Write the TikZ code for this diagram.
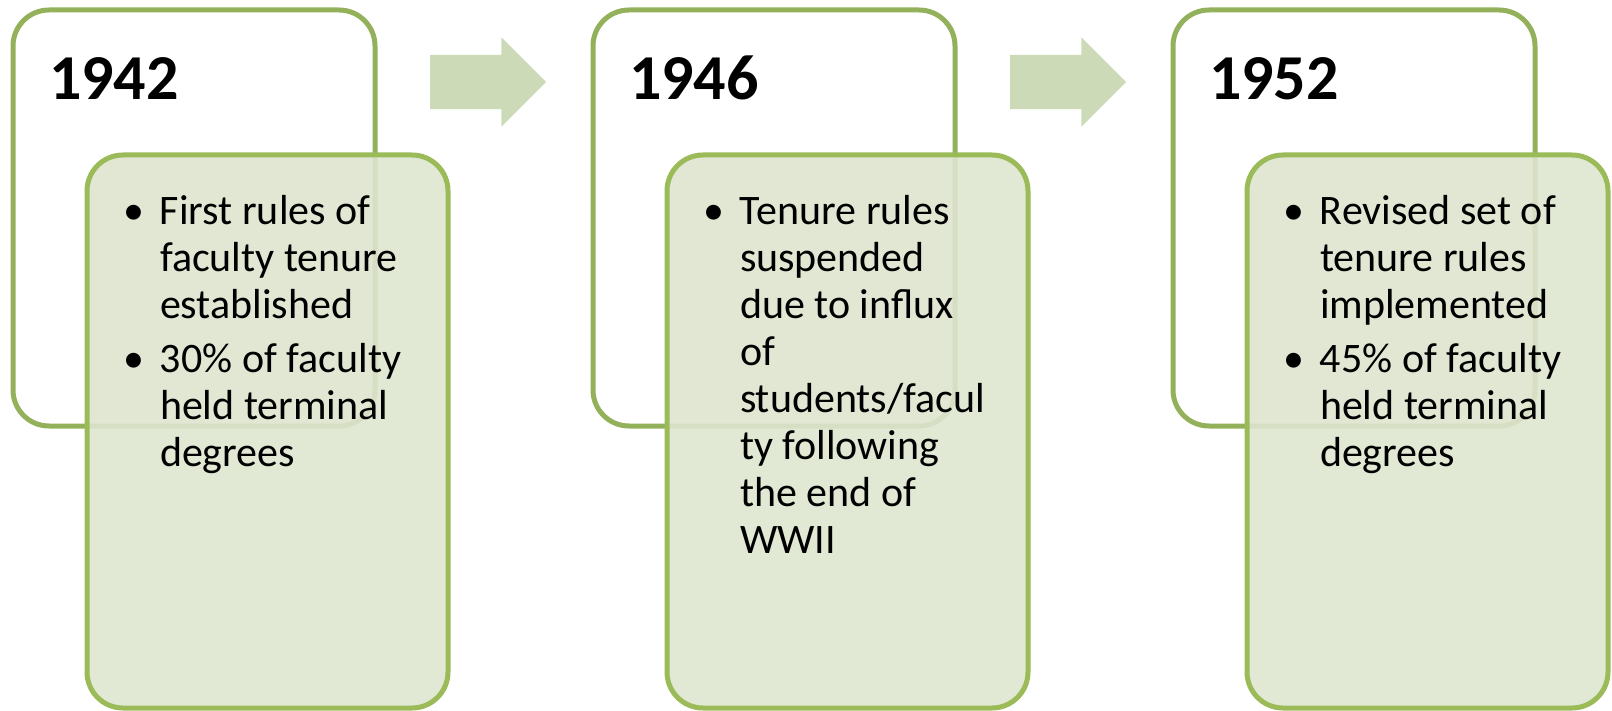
\documentclass[tikz,border=0pt]{standalone}
\usepackage{fontspec}
\setmainfont{Carlito}
\usetikzlibrary{positioning, calc, shapes.arrows}
\definecolor{frameline}{HTML}{93B15A}
\definecolor{noteline}{HTML}{9BBB59}
\definecolor{notefill}{HTML}{DEE5CF}
\definecolor{flowfill}{HTML}{CCDAB8}
\newcommand{\pointmark}{\makebox[37pt][l]{\textbullet}}

\begin{document}
\begin{tikzpicture}[x=1pt, y=-1pt, node distance={218pt}, outer sep=0pt, yearbox/.style = {draw=frameline, line width=5pt, rounded corners=36pt, minimum width=362pt, minimum height=416pt, fill=white}, notebox/.style = {draw=noteline, line width=5pt, rounded corners=36pt, minimum width=361pt, minimum height=553pt, fill=notefill, fill opacity=0.9}, year/.style = {anchor=base west, inner sep=0pt, font=\fontsize{64}{77}\selectfont\bfseries}, notes/.style = {anchor=base west, inner sep=0pt, font=\fontsize{42}{47}\selectfont}, flow/.style = {single arrow, fill=flowfill, draw=none, minimum height=116pt, inner xsep=0pt, inner ysep=27pt, single arrow head extend=17.5pt}]
                \useasboundingbox (0,0) rectangle (1612,711);
                \node[yearbox] (b1942) at (194,218) {};
                \node[yearbox] (b1946) [right=of b1942] {};
                \node[yearbox] (b1952) [right=of b1946] {};
                \node[notebox] (n1942) [below right=145pt and 74pt of b1942.north west] {};
                \node[notebox] (n1946) [below right=145pt and 74pt of b1946.north west] {};
                \node[notebox] (n1952) [below right=145pt and 74pt of b1952.north west] {};
                \node[year] (y1942) at ($(b1942.north west)+(36,90)$) {1942};
                \node[year] (y1946) at ($(b1946.north west)+(36,90)$) {1946};
                \node[year] (y1952) at ($(b1952.north west)+(36,90)$) {1952};
                \node[flow, anchor=west] (a1) at ($(b1942.north east)+(55,72)$) {};
                \node[flow, anchor=west] (a2) at ($(b1946.north east)+(55,72)$) {};
                \node[notes] (l1942) at ($(n1942.north west)+(36,70)$) {\begin{tabular}[t]{@{}l@{}l@{}}
                    \pointmark & First rules of\\ & faculty tenure\\ & established\\[7pt]
                    \pointmark & 30\% of faculty\\ & held terminal\\ & degrees
                \end{tabular}};
                \node[notes] (l1946) at ($(n1946.north west)+(36,70)$) {\begin{tabular}[t]{@{}l@{}l@{}}
                    \pointmark & Tenure rules\\ & suspended\\ & due to influx\\ & of\\ & students/facul\\ & ty following\\ & the end of\\ & WWII
                \end{tabular}};
                \node[notes] (l1952) at ($(n1952.north west)+(36,70)$) {\begin{tabular}[t]{@{}l@{}l@{}}
                    \pointmark & Revised set of\\ & tenure rules\\ & implemented\\[7pt]
                    \pointmark & 45\% of faculty\\ & held terminal\\ & degrees
                \end{tabular}};
            \end{tikzpicture}
\end{document}
